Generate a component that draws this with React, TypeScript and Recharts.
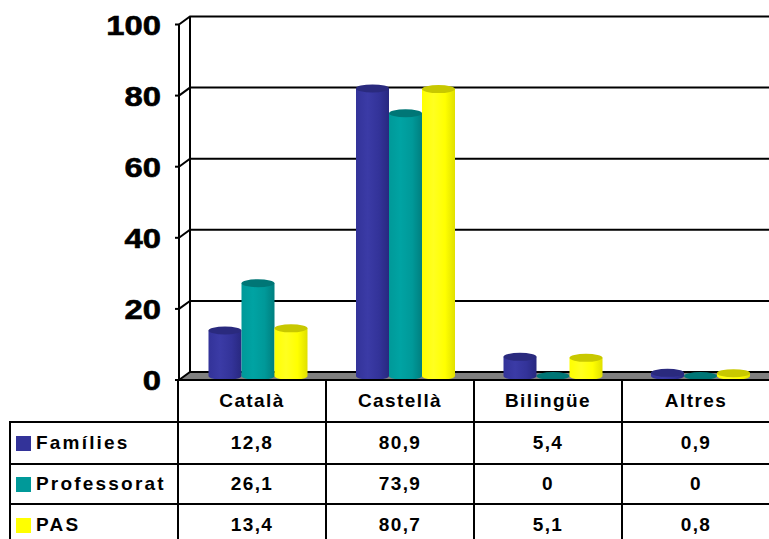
import React from 'react';
import { BarChart, Bar, XAxis, YAxis, CartesianGrid } from 'recharts';

const categories = ['Català', 'Castellà', 'Bilingüe', 'Altres'];
const families = [12.8, 80.9, 5.4, 0.9];
const professorat = [26.1, 73.9, 0, 0];
const pas = [13.4, 80.7, 5.1, 0.8];
const seriesNames = ['Famílies', 'Professorat', 'PAS'];
const yTicks = [0, 20, 40, 60, 80, 100];

const W = 769;
const H = 539;
const DX = 11; // 3d depth
const DY = -8;
const FONT = '"Liberation Sans", Arial, sans-serif';

const COLORS = [
  { light: '#3b3ba6', main: '#333399', dark: '#282880', top: '#2a2a7e' },
  { light: '#00a3a3', main: '#009999', dark: '#007f7f', top: '#007676' },
  { light: '#ffff20', main: '#ffff00', dark: '#e0e000', top: '#c8c800' },
];

const data = categories.map((name, i) => ({
  name,
  fam: families[i],
  prof: professorat[i],
  pas: pas[i],
}));
const seriesKeys = ['fam', 'prof', 'pas'];
const seriesValues = [families, professorat, pas];

const fmt = (v: number) => String(v).replace('.', ',');

const makeCylinder = (idx: number) => (props: any) => {
  const { x, y, width, height } = props;
  if (x == null || y == null) return null;
  const cx = x + DX / 2;
  const cy = y + DY / 2;
  const rx = width / 2;
  const ry = 4;
  const h = Math.max(0, height);
  const gid = `cyl-${idx}`;
  return (
    <g>
      {h > 0 && (
        <path
          d={`M${cx},${cy} L${cx},${cy + h} A${rx},${ry} 0 0 0 ${cx + width},${cy + h} L${cx + width},${cy} Z`}
          fill={`url(#${gid})`}
        />
      )}
      <ellipse cx={cx + rx} cy={cy} rx={rx} ry={ry} fill={COLORS[idx].top} />
    </g>
  );
};

const gridLine = (bottomY: { v: number }) => (props: any) => {
  const { x1, y1, x2, key } = props;
  if (Math.abs(y1 - bottomY.v) < 1) {
    return (
      <g key={key}>
        <polygon
          points={`${x1},${y1} ${x1 + DX},${y1 + DY} ${x2 + DX},${y1 + DY} ${x2},${y1}`}
          fill="#808080"
        />
        <path d={`M${x1},${y1} L${x1 + DX},${y1 + DY} L${x2 + DX},${y1 + DY}`} stroke="#000" strokeWidth={2} fill="none" />
      </g>
    );
  }
  return (
    <path
      key={key}
      d={`M${x1},${y1} L${x1 + DX},${y1 + DY} L${x2 + DX},${y1 + DY}`}
      stroke="#000"
      strokeWidth={2}
      fill="none"
    />
  );
};

const vertLine = (props: any) => {
  const { x1, y1, y2, key } = props;
  return <line key={key} x1={x1 + DX} y1={y1 + DY} x2={x1 + DX} y2={y2 + DY} stroke="#000" strokeWidth={2} />;
};

const YTick = (props: any) => {
  const { x, y, payload } = props;
  return (
    <text
      transform={`translate(${x},${y + 10}) scale(1.17,1)`}
      textAnchor="end"
      fontFamily={FONT}
      fontWeight="bold"
      fontSize={28}
      stroke="#000"
      strokeWidth={0.6}
      fill="#000"
    >
      {payload.value}
    </text>
  );
};

// table geometry
const colX = [10, 178, 326, 474, 622, 770];
const rowY = [380, 422, 464, 504, 546];

const cellText: React.CSSProperties = {
  position: 'absolute',
  fontFamily: FONT,
  fontWeight: 'bold',
  fontSize: 19,
  letterSpacing: 1.4,
  color: '#000',
  display: 'flex',
  alignItems: 'center',
  whiteSpace: 'nowrap',
};

const DataTable = () => {
  const lines: React.ReactNode[] = [];
  // horizontal lines
  lines.push(<div key="h0" style={{ position: 'absolute', left: colX[1], top: rowY[0] - 1, width: W - colX[1], height: 2, background: '#000' }} />);
  for (let r = 1; r < rowY.length; r++) {
    lines.push(
      <div key={`h${r}`} style={{ position: 'absolute', left: colX[0], top: rowY[r] - 1, width: W - colX[0], height: 2, background: '#000' }} />
    );
  }
  // vertical lines
  lines.push(<div key="v0" style={{ position: 'absolute', left: colX[0] - 1, top: rowY[1] - 1, width: 2, height: H - rowY[1] + 1, background: '#000' }} />);
  for (let c = 1; c < colX.length; c++) {
    lines.push(<div key={`v${c}`} style={{ position: 'absolute', left: colX[c] - 1, top: rowY[0] - 1, width: 2, height: H - rowY[0] + 1, background: '#000' }} />);
  }
  const texts: React.ReactNode[] = [];
  categories.forEach((c, i) => {
    texts.push(
      <div key={`c${i}`} style={{ ...cellText, left: colX[i + 1], top: rowY[0], width: colX[i + 2] - colX[i + 1], height: rowY[1] - rowY[0], justifyContent: 'center' }}>
        {c}
      </div>
    );
  });
  seriesNames.forEach((s, r) => {
    texts.push(
      <div key={`s${r}`} style={{ ...cellText, letterSpacing: 2.2, left: colX[0] + 6, top: rowY[r + 1], height: rowY[r + 2] - rowY[r + 1] }}>
        <span style={{ display: 'inline-block', width: 15, height: 15, background: COLORS[r].main, marginRight: 5 }} />
        {s}
      </div>
    );
    seriesValues[r].forEach((v, i) => {
      texts.push(
        <div key={`v${r}-${i}`} style={{ ...cellText, left: colX[i + 1], top: rowY[r + 1], width: colX[i + 2] - colX[i + 1], height: rowY[r + 2] - rowY[r + 1], justifyContent: 'center' }}>
          {fmt(v)}
        </div>
      );
    });
  });
  return (
    <>
      {lines}
      {texts}
    </>
  );
};

export default function App() {
  const bottomY = { v: 380 };
  return (
    <div style={{ position: 'absolute', left: 0, top: 0, width: W, height: H, background: '#fff', overflow: 'hidden' }}>
      <BarChart
        width={W}
        height={H}
        data={data}
        margin={{ top: 24.5, right: 0, left: 109, bottom: 159 }}
        barSize={33}
        barGap={0}
      >
        <defs>
          {COLORS.map((c, i) => (
            <linearGradient key={i} id={`cyl-${i}`} x1="0" y1="0" x2="1" y2="0">
              <stop offset="0%" stopColor={c.main} />
              <stop offset="35%" stopColor={c.light} />
              <stop offset="70%" stopColor={c.main} />
              <stop offset="100%" stopColor={c.dark} />
            </linearGradient>
          ))}
        </defs>
        <CartesianGrid
          horizontal={gridLine(bottomY)}
          vertical={vertLine}
          verticalPoints={[179]}
        />
        <XAxis dataKey="name" hide />
        <YAxis
          width={70}
          domain={[0, 100]}
          ticks={yTicks}
          tickSize={4}
          tickMargin={14}
          axisLine={{ stroke: '#000', strokeWidth: 2 }}
          tickLine={{ stroke: '#000', strokeWidth: 2 }}
          tick={<YTick />}
        />
        {seriesKeys.map((k, i) => (
          <Bar key={k} dataKey={k} name={seriesNames[i]} fill={COLORS[i].main} shape={makeCylinder(i)} isAnimationActive={false} />
        ))}
      </BarChart>
      <DataTable />
    </div>
  );
}
